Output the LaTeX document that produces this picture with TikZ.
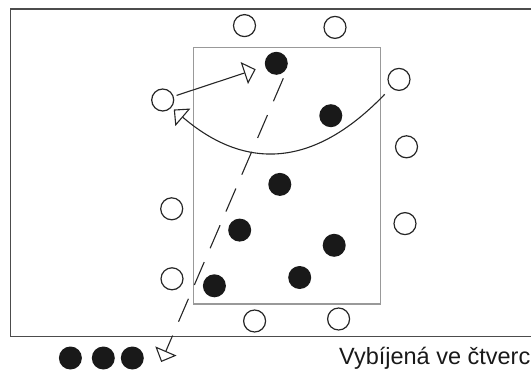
\documentclass[tikz,border=0pt]{standalone}
\usepackage{fontspec}
\setmainfont{Liberation Sans}
\usetikzlibrary{arrows.meta}
\begin{document}
\begin{tikzpicture}[x=1pt,y=-1pt,
  open/.style={circle,draw=black!85,line width=1.2pt,fill=white,minimum size=22pt,inner sep=0pt},
  full/.style={circle,fill=black!90,minimum size=23pt,inner sep=0pt},
  pass/.style={line width=1.1pt,draw=black!85,-{Triangle[open,length=12pt,width=23pt,line width=1.1pt]}},
  court/.style={draw=black!70,line width=1.4pt},
  square/.style={draw=black!40,line width=1.1pt}]
\useasboundingbox (0,0) rectangle (531,370);
\clip (0,0) rectangle (531,370);
% court
\draw[court] (10.7,9) rectangle (545,336.7);
\draw[square] (193.3,47.3) rectangle (380.7,304);
% open circles
\node[open] (o1) at (244.5,25.6) {};
\node[open] (o2) at (335,27.4) {};
\node[open] (o3) at (399,79.4) {};
\node[open] (o4) at (162.7,100) {};
\node[open] (o5) at (406.5,146.8) {};
\node[open] (o6) at (171.7,208.8) {};
\node[open] (o7) at (405,223.6) {};
\node[open] (o8) at (172,278.8) {};
\node[open] (o9) at (254.6,321) {};
\node[open] (o10) at (338.6,319) {};
% filled circles
\node[full] (f1) at (276.3,63.3) {};
\node[full] (f2) at (330.8,115.7) {};
\node[full] (f3) at (279.8,184.4) {};
\node[full] (f4) at (239.7,230.1) {};
\node[full] (f5) at (334.2,245.3) {};
\node[full] (f6) at (299.7,277.5) {};
\node[full] (f7) at (214.4,285.8) {};
\node[full] (b1) at (70.4,358) {};
\node[full] (b2) at (103.3,358) {};
\node[full] (b3) at (132.3,358) {};
% arrows
\coordinate (a1e) at (255.7,69.3);
\draw[pass,shorten <=3pt] (o4) -- (a1e);
\draw[pass,shorten <=9pt,shorten >=3pt] (o3) .. controls (301.7,180.8) and (232,159.5) .. (o4);
\coordinate (ds) at (283.3,78.3);
\coordinate (de) at (161.2,362);
\draw[pass,dash pattern=on 25pt off 15pt] (ds) -- (de);
% caption
\node[anchor=base west,inner sep=0pt,font=\fontsize{23.5}{28}\selectfont,text=black!90] (cap) at (339,364.5) {Vybíjená ve čtverci};
\end{tikzpicture}
\end{document}
